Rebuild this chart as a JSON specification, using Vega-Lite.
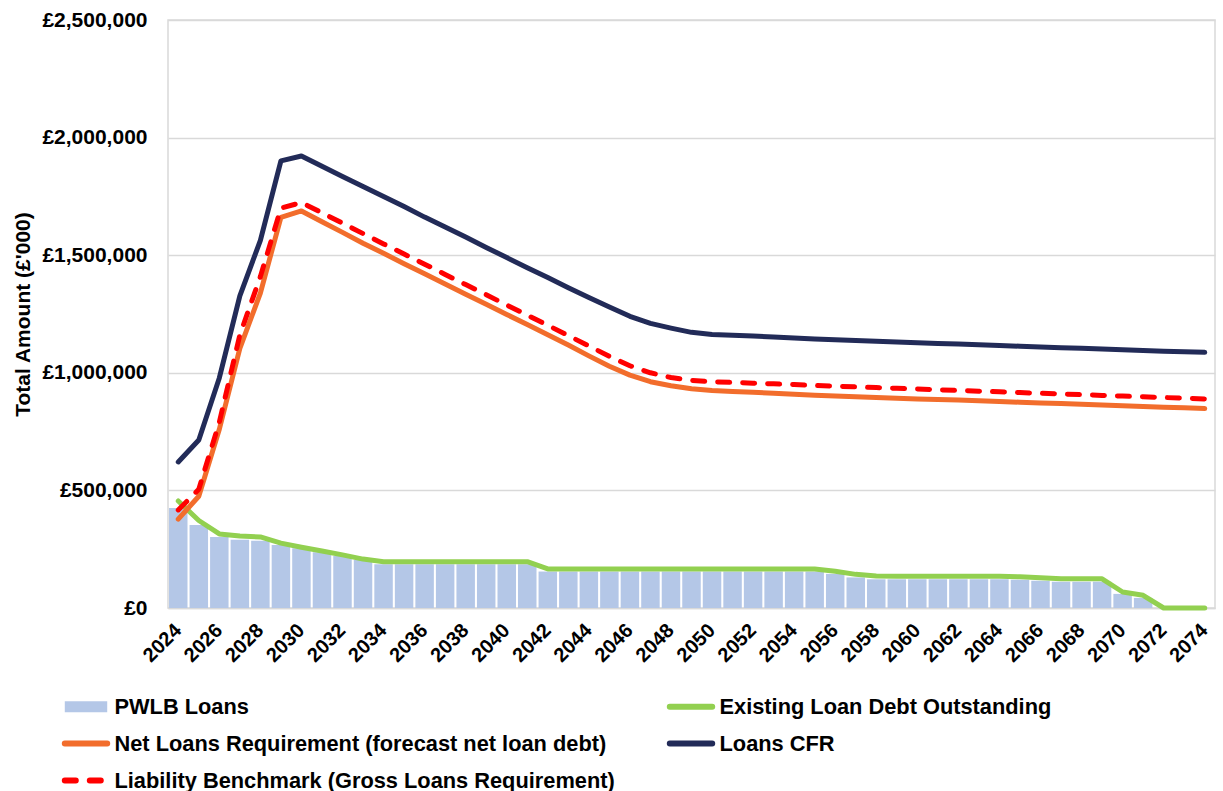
{
  "$schema": "https://vega.github.io/schema/vega-lite/v6.json",
  "width": 1047,
  "height": 588,
  "autosize": {"type": "none"},
  "padding": {"left": 168, "top": 20, "right": 8, "bottom": 183},
  "background": "white",
  "config": {
    "font": "Liberation Sans",
    "view": {"stroke": "#d9d9d9", "strokeWidth": 1.5}
  },
  "data": {
    "values": [
      {"year": 2024, "pwlb": 425000, "existing": 455000, "net": 378000, "cfr": 621000, "lb": 417000},
      {"year": 2025, "pwlb": 353000, "existing": 372000, "net": 475000, "cfr": 714000, "lb": 505000},
      {"year": 2026, "pwlb": 302000, "existing": 315000, "net": 760000, "cfr": 978000, "lb": 790000},
      {"year": 2027, "pwlb": 290000, "existing": 306000, "net": 1104000, "cfr": 1327000, "lb": 1161000},
      {"year": 2028, "pwlb": 286000, "existing": 302000, "net": 1339000, "cfr": 1563000, "lb": 1409000},
      {"year": 2029, "pwlb": 268000, "existing": 276000, "net": 1661000, "cfr": 1901000, "lb": 1700000},
      {"year": 2030, "pwlb": 254000, "existing": 258000, "net": 1688000, "cfr": 1922000, "lb": 1724000},
      {"year": 2031, "pwlb": 237000, "existing": 242000, "net": 1642000, "cfr": 1878000, "lb": 1680000},
      {"year": 2032, "pwlb": 221000, "existing": 226000, "net": 1597000, "cfr": 1835000, "lb": 1636000},
      {"year": 2033, "pwlb": 204000, "existing": 208000, "net": 1551000, "cfr": 1792000, "lb": 1592000},
      {"year": 2034, "pwlb": 186000, "existing": 197000, "net": 1508000, "cfr": 1750000, "lb": 1548000},
      {"year": 2035, "pwlb": 186000, "existing": 197000, "net": 1464000, "cfr": 1707000, "lb": 1505000},
      {"year": 2036, "pwlb": 186000, "existing": 197000, "net": 1421000, "cfr": 1662000, "lb": 1462000},
      {"year": 2037, "pwlb": 186000, "existing": 197000, "net": 1378000, "cfr": 1620000, "lb": 1418000},
      {"year": 2038, "pwlb": 186000, "existing": 197000, "net": 1334000, "cfr": 1577000, "lb": 1375000},
      {"year": 2039, "pwlb": 186000, "existing": 197000, "net": 1291000, "cfr": 1533000, "lb": 1332000},
      {"year": 2040, "pwlb": 186000, "existing": 197000, "net": 1248000, "cfr": 1490000, "lb": 1288000},
      {"year": 2041, "pwlb": 186000, "existing": 197000, "net": 1205000, "cfr": 1447000, "lb": 1245000},
      {"year": 2042, "pwlb": 155000, "existing": 166000, "net": 1162000, "cfr": 1405000, "lb": 1202000},
      {"year": 2043, "pwlb": 155000, "existing": 166000, "net": 1118000, "cfr": 1362000, "lb": 1158000},
      {"year": 2044, "pwlb": 155000, "existing": 166000, "net": 1072000, "cfr": 1320000, "lb": 1114000},
      {"year": 2045, "pwlb": 155000, "existing": 166000, "net": 1028000, "cfr": 1280000, "lb": 1070000},
      {"year": 2046, "pwlb": 155000, "existing": 166000, "net": 990000, "cfr": 1240000, "lb": 1030000},
      {"year": 2047, "pwlb": 155000, "existing": 166000, "net": 962000, "cfr": 1210000, "lb": 1000000},
      {"year": 2048, "pwlb": 155000, "existing": 166000, "net": 945000, "cfr": 1190000, "lb": 980000},
      {"year": 2049, "pwlb": 155000, "existing": 166000, "net": 932000, "cfr": 1172000, "lb": 968000},
      {"year": 2050, "pwlb": 155000, "existing": 166000, "net": 925000, "cfr": 1163000, "lb": 962000},
      {"year": 2051, "pwlb": 155000, "existing": 166000, "net": 921000, "cfr": 1160000, "lb": 959000},
      {"year": 2052, "pwlb": 155000, "existing": 166000, "net": 917000, "cfr": 1156000, "lb": 956000},
      {"year": 2053, "pwlb": 155000, "existing": 166000, "net": 913000, "cfr": 1152000, "lb": 953000},
      {"year": 2054, "pwlb": 155000, "existing": 166000, "net": 909000, "cfr": 1148000, "lb": 950000},
      {"year": 2055, "pwlb": 155000, "existing": 166000, "net": 905000, "cfr": 1144000, "lb": 946000},
      {"year": 2056, "pwlb": 145000, "existing": 156000, "net": 901000, "cfr": 1140000, "lb": 943000},
      {"year": 2057, "pwlb": 130000, "existing": 143000, "net": 898000, "cfr": 1137000, "lb": 940000},
      {"year": 2058, "pwlb": 122000, "existing": 136000, "net": 895000, "cfr": 1134000, "lb": 937000},
      {"year": 2059, "pwlb": 122000, "existing": 135000, "net": 892000, "cfr": 1131000, "lb": 934000},
      {"year": 2060, "pwlb": 122000, "existing": 135000, "net": 889000, "cfr": 1128000, "lb": 931000},
      {"year": 2061, "pwlb": 122000, "existing": 135000, "net": 886000, "cfr": 1125000, "lb": 928000},
      {"year": 2062, "pwlb": 122000, "existing": 135000, "net": 884000, "cfr": 1122000, "lb": 925000},
      {"year": 2063, "pwlb": 122000, "existing": 135000, "net": 881000, "cfr": 1119000, "lb": 922000},
      {"year": 2064, "pwlb": 122000, "existing": 135000, "net": 878000, "cfr": 1116000, "lb": 919000},
      {"year": 2065, "pwlb": 120000, "existing": 133000, "net": 875000, "cfr": 1113000, "lb": 916000},
      {"year": 2066, "pwlb": 116000, "existing": 129000, "net": 872000, "cfr": 1110000, "lb": 913000},
      {"year": 2067, "pwlb": 112000, "existing": 124000, "net": 869000, "cfr": 1107000, "lb": 910000},
      {"year": 2068, "pwlb": 112000, "existing": 124000, "net": 866000, "cfr": 1104000, "lb": 907000},
      {"year": 2069, "pwlb": 112000, "existing": 124000, "net": 863000, "cfr": 1101000, "lb": 904000},
      {"year": 2070, "pwlb": 60000, "existing": 68000, "net": 860000, "cfr": 1098000, "lb": 901000},
      {"year": 2071, "pwlb": 43000, "existing": 54000, "net": 857000, "cfr": 1095000, "lb": 898000},
      {"year": 2072, "pwlb": 0, "existing": 0, "net": 854000, "cfr": 1092000, "lb": 895000},
      {"year": 2073, "pwlb": 0, "existing": 0, "net": 851000, "cfr": 1089000, "lb": 892000},
      {"year": 2074, "pwlb": 0, "existing": 0, "net": 848000, "cfr": 1087000, "lb": 889000}
    ]
  },
  "encoding": {
    "x": {
      "field": "year",
      "type": "ordinal",
      "scale": {"paddingInner": 0.1, "paddingOuter": 0.05},
      "axis": {
        "title": null,
        "values": [2024, 2026, 2028, 2030, 2032, 2034, 2036, 2038, 2040, 2042, 2044, 2046, 2048, 2050, 2052, 2054, 2056, 2058, 2060, 2062, 2064, 2066, 2068, 2070, 2072, 2074],
        "labelAngle": -45,
        "labelAlign": "right",
        "labelBaseline": "middle",
        "labelFontSize": 20,
        "labelFontWeight": "bold",
        "labelColor": "#000000",
        "labelPadding": 19,
        "ticks": false,
        "domainColor": "#d9d9d9",
        "domainWidth": 1.5,
        "grid": false
      }
    }
  },
  "layer": [
    {
      "mark": {"type": "bar"},
      "encoding": {
        "y": {
          "field": "pwlb",
          "type": "quantitative",
          "title": "Total Amount (£'000)",
          "scale": {"domain": [0, 2500000], "nice": false},
          "axis": {
            "values": [0, 500000, 1000000, 1500000, 2000000, 2500000],
            "labelExpr": "'£' + format(datum.value, ',')",
            "labelFontSize": 21,
            "labelFontWeight": "bold",
            "labelColor": "#000000",
            "labelPadding": 21,
            "ticks": false,
            "domain": false,
            "gridColor": "#d9d9d9",
            "gridWidth": 1.5,
            "titleFontSize": 21,
            "titleFontWeight": "bold",
            "titleColor": "#000000",
            "titlePadding": 8
          }
        },
        "color": {"datum": "PWLB Loans"}
      }
    },
    {
      "mark": {"type": "line", "strokeWidth": 5, "strokeCap": "round", "strokeJoin": "round"},
      "encoding": {
        "y": {"field": "existing", "type": "quantitative", "title": "Total Amount (£'000)"},
        "color": {"datum": "Existing Loan Debt Outstanding"}
      }
    },
    {
      "mark": {"type": "line", "strokeWidth": 5, "strokeCap": "round", "strokeJoin": "round"},
      "encoding": {
        "y": {"field": "net", "type": "quantitative", "title": "Total Amount (£'000)"},
        "color": {"datum": "Net Loans Requirement (forecast net loan debt)"}
      }
    },
    {
      "mark": {"type": "line", "strokeWidth": 5, "strokeCap": "round", "strokeJoin": "round"},
      "encoding": {
        "y": {"field": "cfr", "type": "quantitative", "title": "Total Amount (£'000)"},
        "color": {"datum": "Loans CFR"}
      }
    },
    {
      "mark": {"type": "line", "strokeWidth": 5, "strokeCap": "round", "strokeJoin": "round", "strokeDash": [12, 13]},
      "encoding": {
        "y": {"field": "lb", "type": "quantitative", "title": "Total Amount (£'000)"},
        "color": {
          "datum": "Liability Benchmark (Gross Loans Requirement)",
          "scale": {
            "domain": ["PWLB Loans", "Existing Loan Debt Outstanding", "Net Loans Requirement (forecast net loan debt)", "Loans CFR", "Liability Benchmark (Gross Loans Requirement)"],
            "range": ["#b4c7e7", "#92d050", "#f26d2c", "#222b58", "#ff0000"]
          },
          "legend": {
            "title": null,
            "orient": "none",
            "direction": "horizontal",
            "gridAlign": "all",
            "legendX": -106.5,
            "legendY": 662,
            "columns": 2,
            "columnPadding": 42,
            "rowPadding": 0,
            "symbolType": "stroke",
            "symbolSize": 1800,
            "symbolStrokeWidth": 6,
            "labelOffset": 4,
            "labelFontSize": 21.8,
            "labelFontWeight": "bold",
            "labelColor": "#000000",
            "labelLimit": 800,
            "encode": {
              "symbols": {
                "update": {
                  "shape": {"signal": "datum.value == 'PWLB Loans' ? 'M-1,-0.26L1,-0.26L1,0.26L-1,0.26Z' : 'stroke'"},
                  "fill": {"signal": "datum.value == 'PWLB Loans' ? '#b4c7e7' : 'transparent'"},
                  "stroke": {"scale": "color", "field": "value"},
                  "strokeOpacity": {"signal": "datum.value == 'PWLB Loans' ? 0 : 1"},
                  "strokeDash": {"signal": "datum.value == 'Liability Benchmark (Gross Loans Requirement)' ? [11, 14] : [1, 0]"},
                  "strokeCap": {"value": "round"}
                }
              }
            }
          }
        }
      }
    }
  ]
}
